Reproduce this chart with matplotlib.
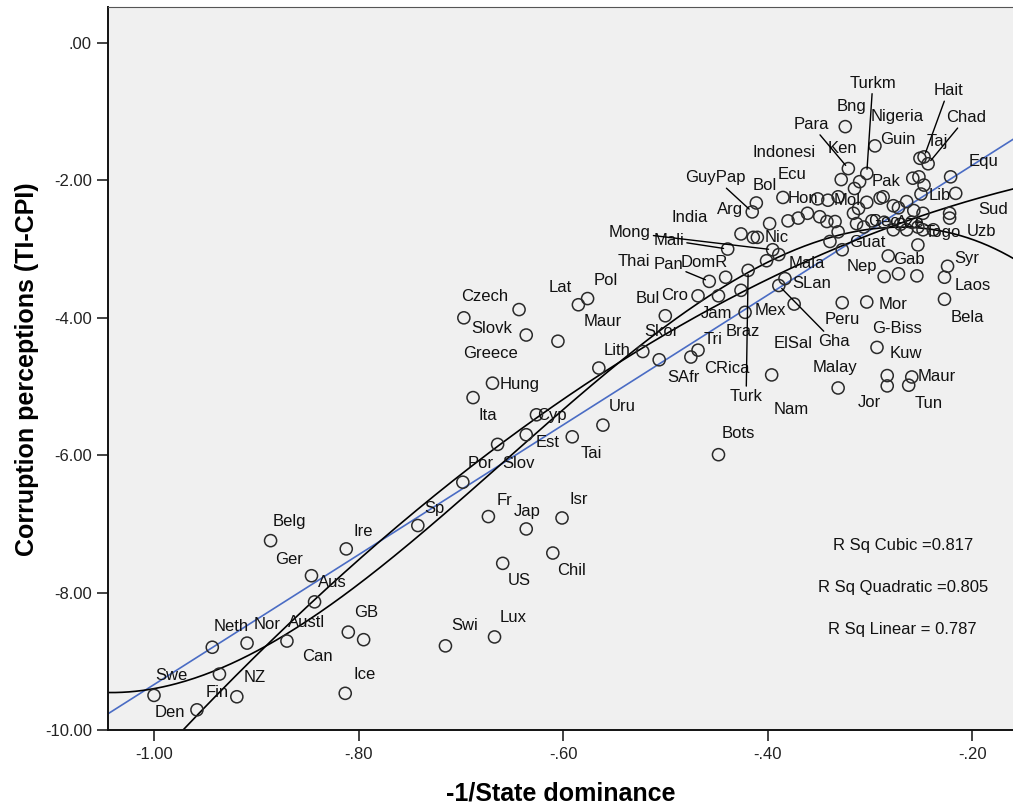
import numpy as np
import matplotlib
matplotlib.use("Agg")
import matplotlib.pyplot as plt
from matplotlib.ticker import FixedLocator, FuncFormatter

plt.rcParams['font.family'] = ['Liberation Sans', 'DejaVu Sans']

# labelled countries: -1/state dominance vs. corruption perceptions
country = ["Belg", "Ire", "Ger", "Aus", "Neth", "Nor", "Austl", "GB", "Can", "Swe",
           "Fin", "NZ", "Den", "Ice", "Sp", "Fr", "Jap", "Isr", "Chil", "US",
           "Lux", "Swi", "Por", "Slov", "Est", "Cyp", "Ita", "Hung", "Tai", "Uru",
           "Bots", "Czech", "Slovk", "Greece", "Maur", "Lat", "Pol", "Lith", "Skor", "Bul",
           "Cro", "SAfr", "CRica", "Tri", "Jam", "Pan", "DomR", "Braz", "Mex", "Turk",
           "Nam", "Gha", "SLan", "ElSal", "Peru", "Mor", "Kuw", "Malay", "Jor", "G-Biss",
           "Maur", "Tun", "Bela", "Syr", "Laos", "Gab", "Nep", "Guat", "Mala", "Mali",
           "Mong", "Thai", "India", "Nic", "GuyPap", "Arg", "Bol", "Ecu", "Hon", "Mol",
           "Indonesi", "Ken", "Para", "Bng", "Turkm", "Nigeria", "Guin", "Hait", "Chad", "Taj",
           "Equ", "Pak", "Lib", "Sud", "Togo", "Uzb", "Geo", "Aze"]
state_dom = [-0.886, -0.812, -0.846, -0.843, -0.943, -0.909, -0.870, -0.810, -0.795, -1.000,
             -0.936, -0.919, -0.958, -0.813, -0.742, -0.673, -0.636, -0.601, -0.610, -0.659,
             -0.667, -0.715, -0.698, -0.664, -0.636, -0.626, -0.688, -0.669, -0.591, -0.561,
             -0.448, -0.643, -0.697, -0.636, -0.605, -0.585, -0.576, -0.565, -0.522, -0.500,
             -0.468, -0.506, -0.475, -0.468, -0.448, -0.457, -0.441, -0.426, -0.422, -0.419,
             -0.396, -0.389, -0.383, -0.374, -0.327, -0.303, -0.293, -0.331, -0.283, -0.283,
             -0.259, -0.262, -0.227, -0.224, -0.227, -0.282, -0.286, -0.327, -0.389, -0.439,
             -0.395, -0.401, -0.426, -0.410, -0.415, -0.411, -0.398, -0.380, -0.385, -0.341,
             -0.328, -0.315, -0.321, -0.324, -0.303, -0.303, -0.295, -0.247, -0.243, -0.251,
             -0.221, -0.310, -0.250, -0.222, -0.253, -0.238, -0.298, -0.270]
cpi = [-7.24, -7.36, -7.75, -8.13, -8.79, -8.73, -8.70, -8.57, -8.68, -9.49,
       -9.18, -9.51, -9.70, -9.46, -7.02, -6.89, -7.07, -6.91, -7.42, -7.57,
       -8.64, -8.77, -6.39, -5.84, -5.70, -5.41, -5.16, -4.95, -5.73, -5.56,
       -5.99, -3.88, -4.00, -4.25, -4.34, -3.81, -3.72, -4.73, -4.49, -3.97,
       -3.68, -4.61, -4.57, -4.47, -3.68, -3.47, -3.41, -3.60, -3.92, -3.31,
       -4.83, -3.53, -3.43, -3.80, -3.78, -3.77, -4.43, -5.02, -4.99, -4.84,
       -4.86, -4.98, -3.73, -3.25, -3.41, -3.10, -3.40, -3.01, -3.08, -3.00,
       -3.01, -3.17, -2.78, -2.83, -2.46, -2.33, -2.63, -2.59, -2.25, -2.29,
       -1.99, -2.12, -1.83, -1.22, -1.90, -2.32, -1.50, -1.66, -1.76, -1.68,
       -1.95, -2.02, -2.20, -2.48, -2.68, -2.72, -2.59, -2.64]

# cases whose labels are hidden in the dense cluster
other_dom = [-0.414, -0.370, -0.361, -0.349, -0.342, -0.334, -0.331, -0.313, -0.306, -0.316,
             -0.311, -0.351, -0.331, -0.258, -0.252, -0.247, -0.216, -0.287, -0.290, -0.264,
             -0.272, -0.277, -0.257, -0.248, -0.222, -0.264, -0.248, -0.277, -0.286, -0.259,
             -0.253, -0.272, -0.254, -0.339]
other_cpi = [-2.83, -2.55, -2.48, -2.53, -2.60, -2.60, -2.75, -2.63, -2.68, -2.48,
             -2.41, -2.27, -2.24, -1.97, -1.95, -2.07, -2.19, -2.24, -2.26, -2.31,
             -2.40, -2.37, -2.44, -2.48, -2.55, -2.72, -2.72, -2.72, -2.61, -2.61,
             -2.94, -3.36, -3.39, -2.89]

r_sq = {"Cubic": "0.817", "Quadratic": "0.805", "Linear": "0.787"}

# label placement (pixel offsets from the point) and which labels get a leader line
label_offset = [(19, -19), (17, -17), (-22, -16), (18, -19), (19, -21), (20, -19), (20, -19), (18, -20), (-46, 17), (17, -20),
                (-2, 18), (18, -19), (-27, 3), (19, -19), (17, -17), (16, -16), (1, -17), (17, -18), (19, 17), (17, 17),
                (19, -19), (19, -20), (18, -19), (21, 19), (21, 8), (15, 1), (15, 18), (27, 1), (19, 17), (19, -19),
                (20, -21), (-34, -13), (28, 11), (-36, 18), (45, -20), (-18, -17), (18, -18), (18, -18), (19, -20), (-18, -17),
                (-23, 0), (24, 18), (36, 11), (15, -11), (-2, 18), (-41, -17), (-21, -15), (2, 41), (25, -2), (-2, 126),
                (20, 35), (55, 56), (27, 5), (-1, 39), (0, 17), (26, 2), (29, 6), (-3, -20), (-18, 17), (10, -47),
                (25, 0), (20, 18), (23, 18), (19, -8), (28, 8), (21, 4), (-22, -10), (25, -7), (28, 9), (-59, -9),
                (-143, -17), (-133, 1), (-51, -16), (19, 0), (-37, -34), (-26, 7), (-5, -38), (4, -46), (20, 1), (19, 0),
                (-57, -27), (-12, -40), (-37, -44), (6, -20), (6, -90), (30, -86), (23, -6), (24, -66), (38, -46), (17, -17),
                (33, -15), (26, 0), (19, 1), (44, -4), (25, 5), (48, 2), (12, 1), (10, -2)]
leader = {"Pan", "Turk", "Gha", "Mali", "Mong", "GuyPap", "Para", "Turkm", "Hait", "Chad"}

all_x = np.array(state_dom + other_dom)
all_y = np.array(cpi + other_cpi)

fig = plt.figure(figsize=(10.13, 8.11), dpi=100)
ax = fig.add_axes([0.1071, 0.0993, 0.8929, 0.8921])
ax.set_facecolor("#f0f0f0")
xlim = (-1.0445, -0.16)
ylim = (-10.0, 0.52)

# fit lines over the whole x range
xs = np.linspace(xlim[0], xlim[1], 400)
for deg, col in [(1, "#4a6cc4"), (2, "black"), (3, "black")]:
    coef = np.polyfit(all_x, all_y, deg)
    ax.plot(xs, np.polyval(coef, xs), color=col, lw=1.2, zorder=2)

ax.scatter(all_x, all_y, s=76, facecolors="none", edgecolors="#2a2a2a",
           linewidths=1.1, zorder=3)

for name, x, y, (dx, dy) in zip(country, state_dom, cpi, label_offset):
    arrow = None
    if name in leader:
        arrow = dict(arrowstyle="-", color="black", lw=1.0, shrinkA=0, shrinkB=3)
    ax.annotate(name, xy=(x, y), xytext=(dx, -dy), textcoords="offset pixels",
                ha="center", va="center", fontsize=12, color="#111111",
                arrowprops=arrow, zorder=4)

for i, key in enumerate(["Cubic", "Quadratic", "Linear"]):
    sep = " = " if key == "Linear" else " ="
    ax.text(0.878, 0.255 - 0.058 * i, "R Sq " + key + sep + r_sq[key],
            transform=ax.transAxes, ha="center", va="center", fontsize=12,
            color="#111111")


def spss_fmt(v, pos):
    s = "{:.2f}".format(v)
    if abs(v) < 1e-9:
        return ".00"
    return s.replace("-0.", "-.")


ax.set_xlim(*xlim)
ax.set_ylim(*ylim)
ax.xaxis.set_major_locator(FixedLocator([-1.0, -0.8, -0.6, -0.4, -0.2]))
ax.yaxis.set_major_locator(FixedLocator([0, -2, -4, -6, -8, -10]))
ax.xaxis.set_major_formatter(FuncFormatter(spss_fmt))
ax.yaxis.set_major_formatter(FuncFormatter(spss_fmt))
ax.tick_params(direction="out", length=8, width=1.2, labelsize=12, pad=4,
               colors="#222222")
for side in ["left", "bottom"]:
    ax.spines[side].set_linewidth(1.4)
    ax.spines[side].set_color("#111111")
ax.spines["top"].set_color("#555555")
ax.spines["right"].set_visible(False)

ax.set_xlabel("-1/State dominance", fontsize=18, fontweight="bold", labelpad=14)
ax.set_ylabel("Corruption perceptions (TI-CPI)", fontsize=18, fontweight="bold",
              labelpad=4)

fig.savefig("out.png", dpi=100, facecolor="white")
